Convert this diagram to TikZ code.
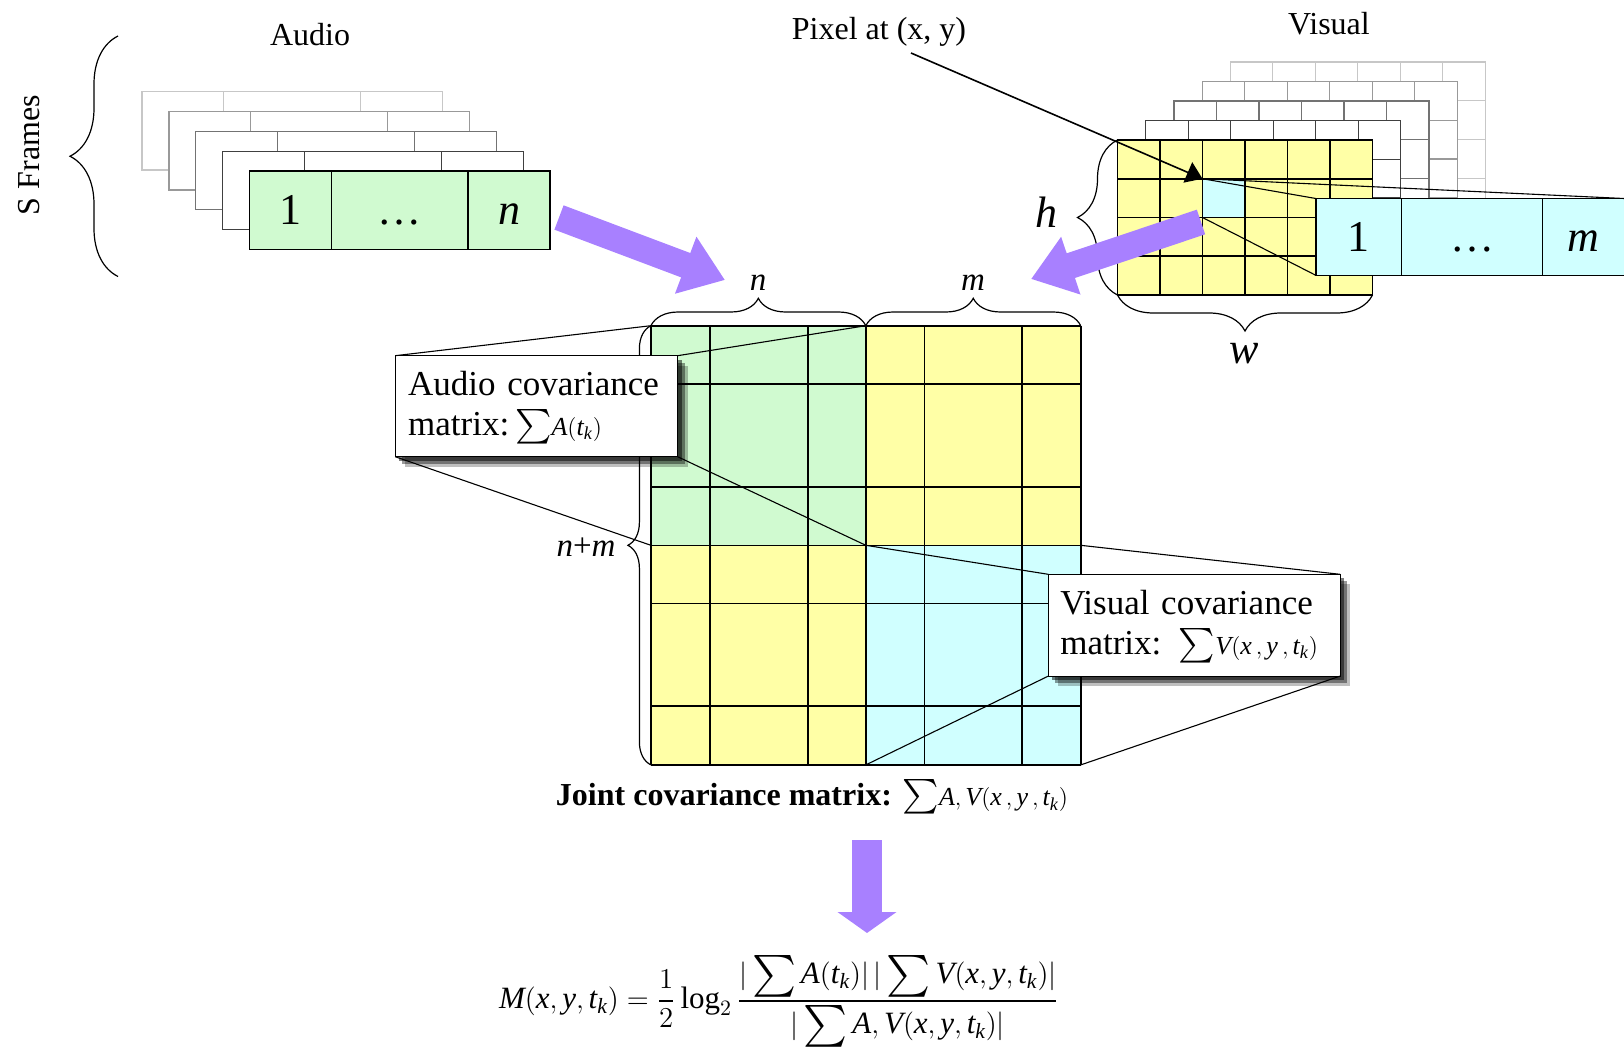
\documentclass[tikz,border=0pt]{standalone}
\usepackage{amsmath}
\usepackage{graphicx}
\usepackage{fontspec}
\setmainfont{Liberation Serif}
\usetikzlibrary{positioning,arrows.meta,decorations.pathreplacing,shadows}

\definecolor{agreen}{RGB}{208,250,208}
\definecolor{vyellow}{RGB}{255,255,166}
\definecolor{vcyan}{RGB}{208,255,255}
\definecolor{bigpurple}{RGB}{168,128,255}
\newcommand{\vi}[1]{\textit{#1}}
\newcommand{\smallpart}[2]{\mbox{\fontsize{#1}{#1}\selectfont$#2$}}
\newcommand{\bigsum}{\mathop{\vcenter{\hbox{\scalebox{1.45}{$\textstyle\sum$}}}}}

\tikzset{
  lbl/.style={font=\fontsize{16}{19}\selectfont, inner sep=0pt},
  sym/.style={font=\fontsize{16.5}{20}\selectfont, inner sep=0pt},
  hw/.style={font=\fontsize{22}{26}\selectfont, inner sep=0pt},
  cell/.style={draw, line width=0.7pt, inner sep=0pt, outer sep=0pt, text height=14.5pt, text depth=0pt, font=\fontsize{22}{26}\selectfont},
  blk/.style={minimum width=107.45pt, minimum height=109.8pt, inner sep=0pt, outer sep=0pt},
  mline/.style={line width=0.8pt},
  callout/.style={draw, fill=white, line width=0.6pt, inner xsep=6.5pt, inner ysep=0pt, outer sep=0pt, align=left,
    font=\fontsize{17.5}{20}\selectfont,
    drop shadow={shadow xshift=2pt, shadow yshift=-2pt, fill=black, opacity=0.5},
    drop shadow={shadow xshift=3.5pt, shadow yshift=-3.5pt, fill=black, opacity=0.4},
    drop shadow={shadow xshift=5pt, shadow yshift=-5pt, fill=black, opacity=0.25}},
  curly/.style={decorate, decoration={brace, amplitude=#1}, line width=0.6pt},
  proj/.style={line width=0.55pt},
  pointer/.style={line width=0.8pt, -{Triangle[length=8pt, width=11pt]}},
  fatarrow/.style={line width=13pt, draw=bigpurple, -{Triangle[length=21pt, width=29pt]}},
  downarrow/.style={line width=15pt, draw=bigpurple, -{Triangle[length=10.5pt, width=29pt]}},
}

\begin{document}
\begin{tikzpicture}[x=0.5pt, y=-0.5pt]
    \useasboundingbox (0,0) rectangle (1624,1049);

    \foreach \k/\c in {4/22,3/40,2/55,1/75}
      \draw[black!\c, fill=white, line width=0.6pt, shift={(-26.9*\k,-19.9*\k)}]
        (249.6,171) rectangle (550,249.6) (331.4,171) -- (331.4,249.6) (468,171) -- (468,249.6);
    \node[cell, fill=agreen, minimum width=40.9pt, minimum height=39.3pt] (a1) at (290.5,210.3) {1};
    \node[cell, fill=agreen, minimum width=68.3pt, minimum height=39.3pt, right=0pt of a1] (adots) {\dots};
    \node[cell, fill=agreen, minimum width=41pt, minimum height=39.3pt, right=0pt of adots] (an) {\vi{n}};
    \node[lbl] (audio) at (310,35) {Audio};
    \node[lbl, rotate=90] (sframes) at (29,155) {S Frames};
    \draw[curly=24pt] (118,276.5) -- (118,36);

    \foreach \k/\c in {4/22,3/40,2/55,1/75} {
      \begin{scope}[shift={(28.2*\k,-19.5*\k)}, color=black!\c, line width=0.6pt]
        \draw[fill=white] (1117.5,140) rectangle (1372.5,295);
        \foreach \i in {1,...,5} \draw (1117.5+42.5*\i,140) -- (1117.5+42.5*\i,295);
        \foreach \j in {1,2,3} \draw (1117.5,140+38.75*\j) -- (1372.5,140+38.75*\j);
      \end{scope}
    }
    \node[draw, fill=vyellow, line width=0.8pt, minimum width=127.5pt, minimum height=77.5pt, inner sep=0pt, outer sep=0pt] (vgrid) at (1245,217.5) {};
    \foreach \i in {1,...,5} \draw[mline] (1117.5+42.5*\i,140) -- (1117.5+42.5*\i,295);
    \foreach \j in {1,2,3} \draw[mline] (1117.5,140+38.75*\j) -- (1372.5,140+38.75*\j);
    \node[draw, fill=vcyan, line width=0.8pt, minimum width=21.25pt, minimum height=19.375pt, inner sep=0pt, outer sep=0pt] (pix) at (1223.75,198.125) {};
    \draw[curly=20pt] (vgrid.south west) -- (vgrid.north west);
    \node[hw] (hlab) at (1046,212) {\vi{h}};
    \draw[curly=18pt] (vgrid.south east) -- (vgrid.south west);
    \node[hw] (wlab) at (1244,354) {\vi{w}};
    \node[lbl] (visual) at (1329,24) {Visual};

    \node[cell, fill=vcyan, minimum width=42.8pt, minimum height=38.4pt] (v1) at (1358.6,236.9) {1};
    \node[cell, fill=vcyan, minimum width=70.8pt, minimum height=38.4pt, right=0pt of v1] (vdots) {\dots};
    \node[cell, draw=none, fill=vcyan, minimum width=40.5pt, minimum height=38.4pt, right=0pt of vdots] (vm) {\vi{m}};
    \draw[line width=0.7pt] (vm.north west) -- (vm.north east) (vm.south west) -- (vm.south east);
    \draw[proj] (pix.north west) -- (v1.north west);
    \draw[proj] (pix.north west) -- (vm.north east);
    \draw[proj] (pix.south west) -- (v1.south west);

    \node[lbl] (pixlab) at (879,32) {Pixel at (x, y)};
    \coordinate (pixfrom) at (911,53);
    \draw[pointer] (pixfrom) -- (pix.north west);

    \node[blk, fill=agreen] (aa) at (758.35,435.5) {};
    \node[blk, fill=vyellow, right=0pt of aa] (av) {};
    \node[blk, fill=vyellow, below=0pt of aa] (va) {};
    \node[blk, fill=vcyan, below=0pt of av] (vv) {};
    \foreach \x in {650.9,709.7,807.9,865.8,924.5,1021.9,1080.7} \draw[mline] (\x,325.7) -- (\x,764.9);
    \foreach \y in {325.7,384,486.7,545.3,603.3,706,764.9} \draw[mline] (650.9,\y) -- (1080.7,\y);
    \draw[curly=13.7pt] (aa.north west) -- (aa.north east);
    \draw[curly=13.7pt] (av.north west) -- (av.north east);
    \node[sym] (nlab) at (758,283) {\vi{n}};
    \node[sym] (mlab) at (973,283) {\vi{m}};
    \draw[curly=11.5pt] (va.south west) -- (aa.north west);
    \node[sym] (nmlab) at (586,547) {\vi{n}+\vi{m}};

    \node[callout, text width=128.2pt, minimum height=50.5pt] (acov) at (536.4,406.2)
      {Audio covariance\\matrix:\,$\smash{\sum}$\smallpart{13}{\vi{A}(\vi{t}_{\vi{k}})}};
    \node[callout, text width=133.9pt, inner xsep=6pt, minimum height=50.9pt] (vcov) at (1194.2,625.2)
      {Visual covariance\\matrix: $\smash{\sum}$\smallpart{13}{\vi{V}(\vi{x}\,,\vi{y}\,,\vi{t}_{\vi{k}})}};
    \draw[proj] (acov.north west) -- (aa.north west);
    \draw[proj] (acov.north east) -- (aa.north east);
    \draw[proj] (acov.south west) -- (aa.south west);
    \draw[proj] (acov.south east) -- (aa.south east);
    \draw[proj] (vcov.north west) -- (vv.north west);
    \draw[proj] (vcov.north east) -- (vv.north east);
    \draw[proj] (vcov.south west) -- (vv.south west);
    \draw[proj] (vcov.south east) -- (vv.south east);

    \node[lbl] (joint) at (812,797) {\textbf{Joint covariance matrix:} $\sum$\smallpart{13}{\vi{A},\vi{V}(\vi{x}\,,\vi{y}\,,\vi{t}_{\vi{k}})}};
    \node[font=\fontsize{15.5}{18}\selectfont, inner sep=0pt] (mi) at (779,1001)
      {$\vi{M}(\vi{x},\vi{y},\vi{t}_{\vi{k}}) = \dfrac{1}{2}\log_2
       \dfrac{|\bigsum\vi{A}(\vi{t}_{\vi{k}})|\,|\bigsum\vi{V}(\vi{x},\vi{y},\vi{t}_{\vi{k}})|}{|\bigsum\vi{A},\vi{V}(\vi{x},\vi{y},\vi{t}_{\vi{k}})|}$};

    \coordinate (atail) at (559,217.5);
    \coordinate (ahead) at (725,280);
    \coordinate (vtail) at (1201,222);
    \coordinate (vhead) at (1031,279);
    \coordinate (dtop) at (867,840);
    \coordinate (dbot) at (867,933);
    \draw[fatarrow] (atail) -- (ahead);
    \draw[fatarrow] (vtail) -- (vhead);
    \draw[downarrow] (dtop) -- (dbot);
\end{tikzpicture}
\end{document}
